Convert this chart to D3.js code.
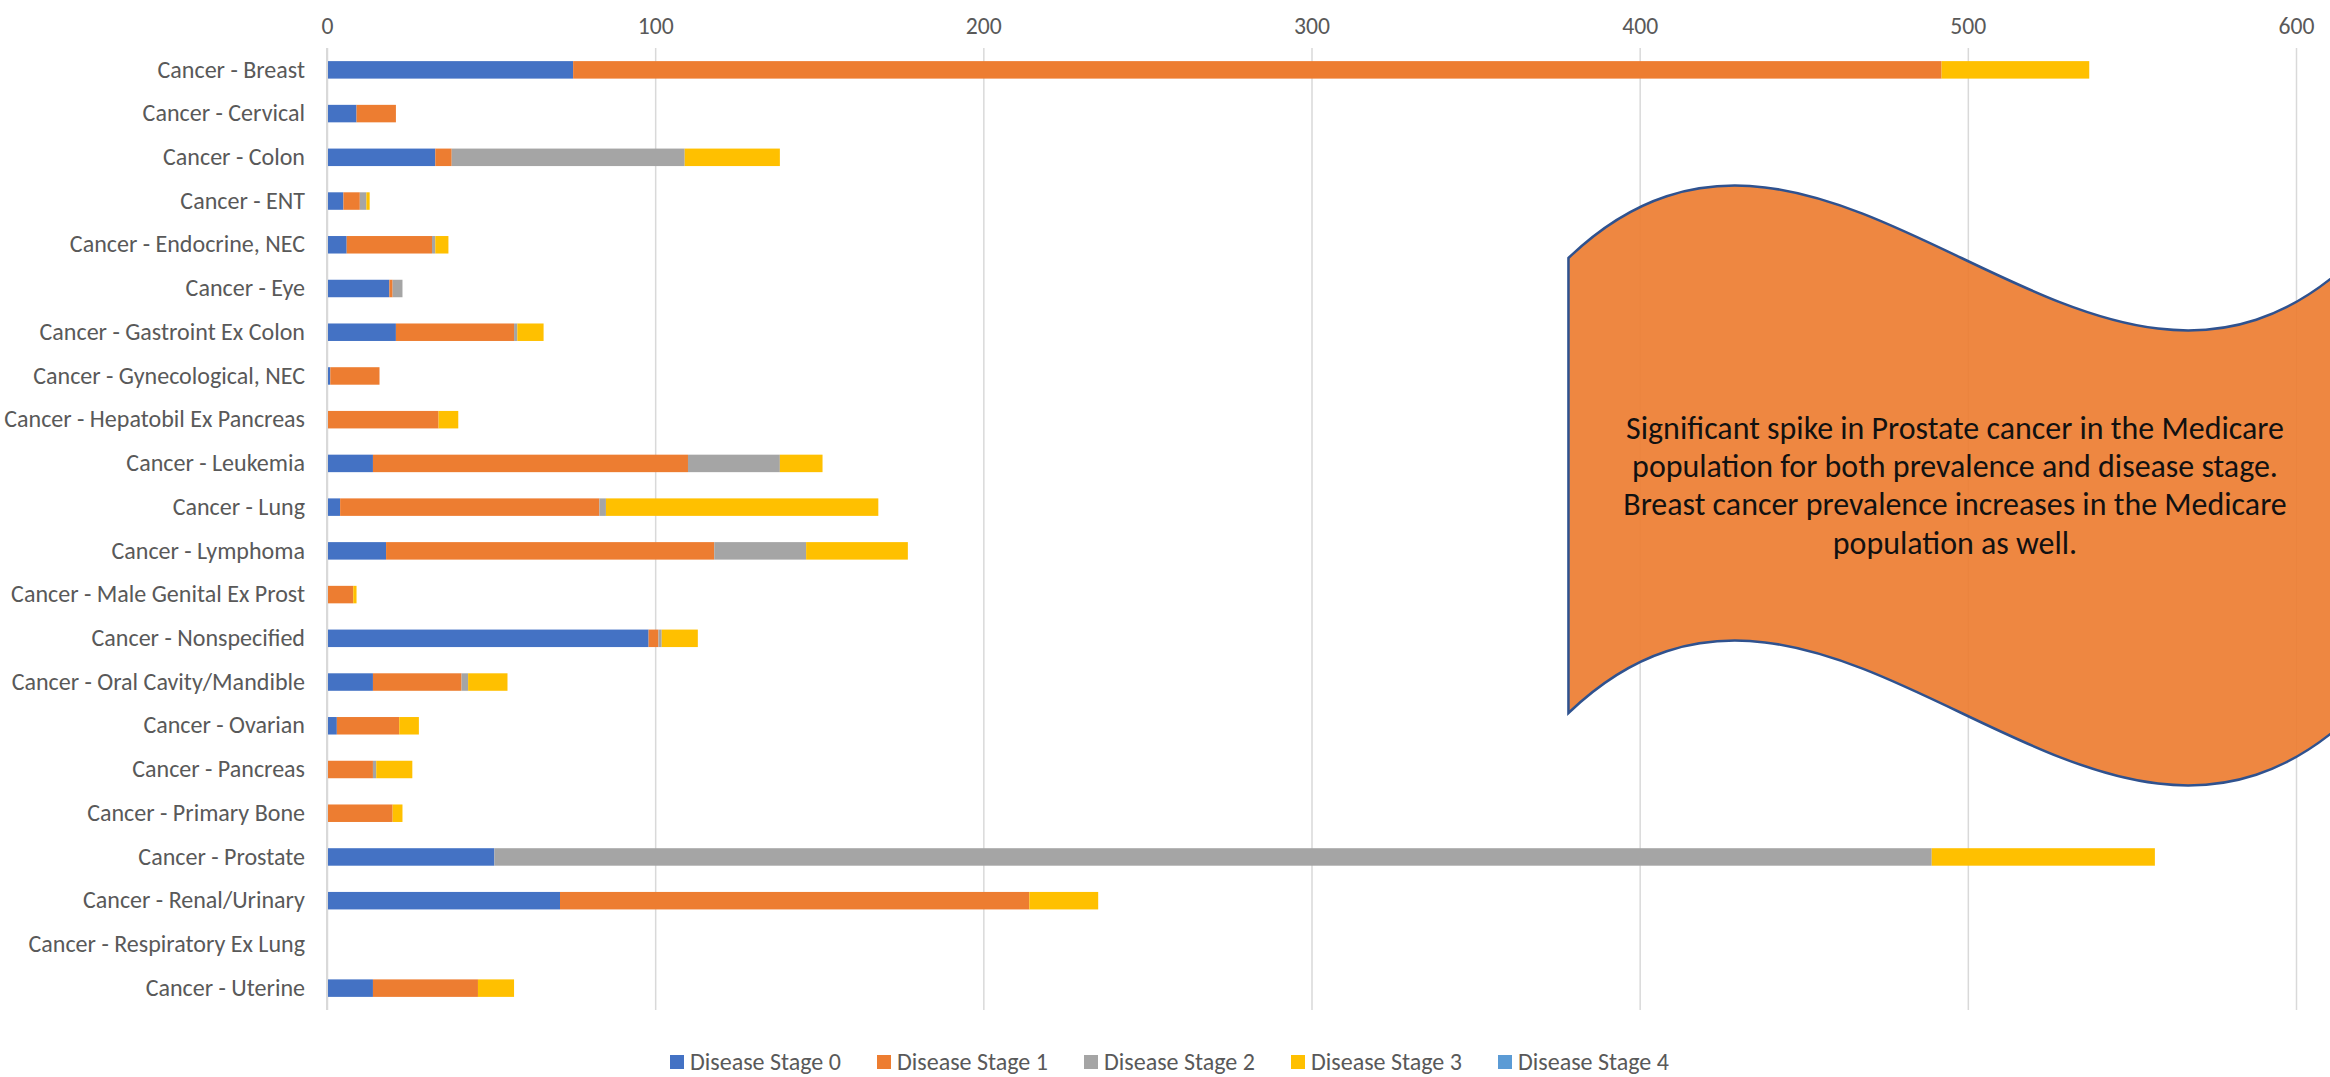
<!DOCTYPE html>
<html>
<head>
<meta charset="utf-8">
<title>Cancer - Disease Stage</title>
<style>
	body { margin: 0; background: #fff; }
	.calText { font-family: Calibri, Carlito, Lato, sans-serif; fill: #595959; }
	.tick line { stroke: #d9d9d9; stroke-width: 1.5px; }
	.domain { display: none; }
	.callout text { font-family: Calibri, Carlito, Lato, sans-serif; fill: #111; text-anchor: middle; }
</style>
</head>
<body>

<svg id="chart" width="2330" height="1077"></svg>

<script src="https://cdn.jsdelivr.net/npm/d3@7/dist/d3.min.js"></script>
<script>

var categories = ['Cancer - Breast', 'Cancer - Cervical', 'Cancer - Colon', 'Cancer - ENT',
	'Cancer - Endocrine, NEC', 'Cancer - Eye', 'Cancer - Gastroint Ex Colon', 'Cancer - Gynecological, NEC',
	'Cancer - Hepatobil Ex Pancreas', 'Cancer - Leukemia', 'Cancer - Lung', 'Cancer - Lymphoma',
	'Cancer - Male Genital Ex Prost', 'Cancer - Nonspecified', 'Cancer - Oral Cavity/Mandible', 'Cancer - Ovarian',
	'Cancer - Pancreas', 'Cancer - Primary Bone', 'Cancer - Prostate', 'Cancer - Renal/Urinary',
	'Cancer - Respiratory Ex Lung', 'Cancer - Uterine'];

var stages = ['Disease Stage 0', 'Disease Stage 1', 'Disease Stage 2', 'Disease Stage 3', 'Disease Stage 4'];

var stage0 = [75, 9, 33, 5, 6, 19, 21, 1, 0, 14, 4, 18, 0, 98, 14, 3, 0, 0, 51, 71, 0, 14];
var stage1 = [417, 12, 5, 5, 26, 1, 36, 15, 34, 96, 79, 100, 8, 3, 27, 19, 14, 20, 0, 143, 0, 32];
var stage2 = [0, 0, 71, 2, 1, 3, 1, 0, 0, 28, 2, 28, 0, 1, 2, 0, 1, 0, 438, 0, 0, 0];
var stage3 = [45, 0, 29, 1, 4, 0, 8, 0, 6, 13, 83, 31, 1, 11, 12, 6, 11, 3, 68, 21, 0, 11];
var stage4 = [0, 0, 0, 0, 0, 0, 0, 0, 0, 0, 0, 0, 0, 0, 0, 0, 0, 0, 0, 0, 0, 0];

var xTicks = [0, 100, 200, 300, 400, 500, 600];

var colors = ['#4472c4', '#ed7d31', '#a5a5a5', '#ffc000', '#5b9bd5'];

var calloutText = ['Significant spike in Prostate cancer in the Medicare',
	'population for both prevalence and disease stage.',
	'Breast cancer prevalence increases in the Medicare',
	'population as well.'];

// build rows for the stack
var seriesValues = [stage0, stage1, stage2, stage3, stage4];
var rows = categories.map(function(c, i) {
	var row = {category: c};
	stages.forEach(function(s, j) { row[s] = seriesValues[j][i]; });
	return row;
});

var svg = d3.select('#chart');

var plotLeft = 327,
	plotRight = 2296,
	plotTop = 48,
	plotBottom = 1010;

var x = d3.scaleLinear().domain([0, 600]).range([plotLeft, plotRight]);
var y = d3.scaleBand().domain(categories).range([plotTop, plotBottom]).paddingInner(0.6).paddingOuter(0.3);

// resize a text selection so that one of its nodes has the wanted width
function fitFont(sel, node, size, wanted) {
	sel.style('font-size', size + 'px');
	var len = node.getComputedTextLength();
	sel.style('font-size', (size * wanted / len) + 'px');
}

// gridlines + top labels
var xAxis = svg.append('g')
	.attr('transform', 'translate(0,' + plotTop + ')')
	.call(d3.axisTop(x).tickValues(xTicks).tickSize(-(plotBottom - plotTop)).tickPadding(14));

var tickText = xAxis.selectAll('text')
	.classed('calText', true)
	.attr('fill', null);
fitFont(tickText, tickText.nodes()[1], 21, 36);

// bars
var stacked = d3.stack().keys(stages)(rows);

svg.append('g')
	.selectAll('g')
	.data(stacked)
	.enter()
	.append('g')
	.attr('fill', function(d, i) { return colors[i]; })
	.selectAll('rect')
	.data(function(d) { return d; })
	.enter()
	.append('rect')
	.attr('x', function(d) { return x(d[0]); })
	.attr('y', function(d) { return y(d.data.category); })
	.attr('width', function(d) { return Math.max(0, x(d[1]) - x(d[0])); })
	.attr('height', y.bandwidth());

// category labels
var yAxis = svg.append('g')
	.attr('transform', 'translate(' + plotLeft + ',0)')
	.call(d3.axisLeft(y).tickSize(0).tickPadding(22));

var catText = yAxis.selectAll('text')
	.classed('calText', true)
	.attr('fill', null);
fitFont(catText, catText.nodes()[8], 20, 301);

// left axis line
svg.append('line')
	.attr('x1', plotLeft).attr('x2', plotLeft)
	.attr('y1', plotTop).attr('y2', plotBottom)
	.attr('stroke', '#d9d9d9')
	.attr('stroke-width', 2);

// wave callout
var waveLeft = x(378.3),
	waveWidth = 786,
	waveTop = 258,
	waveHeight = 455,
	waveBend = 251;

var wave = d3.path();
wave.moveTo(waveLeft, waveTop);
wave.bezierCurveTo(waveLeft + waveWidth / 3, waveTop - waveBend, waveLeft + 2 * waveWidth / 3, waveTop + waveBend, waveLeft + waveWidth, waveTop);
wave.lineTo(waveLeft + waveWidth, waveTop + waveHeight);
wave.bezierCurveTo(waveLeft + 2 * waveWidth / 3, waveTop + waveHeight + waveBend, waveLeft + waveWidth / 3, waveTop + waveHeight - waveBend, waveLeft, waveTop + waveHeight);
wave.closePath();

var callout = svg.append('g').classed('callout', true);

callout.append('path')
	.attr('d', wave.toString())
	.attr('fill', '#ed7d31')
	.attr('fill-opacity', 0.92)
	.attr('stroke', '#2f528f')
	.attr('stroke-width', 2.5);

var calloutLines = callout.selectAll('text')
	.data(calloutText)
	.enter()
	.append('text')
	.attr('x', 1955)
	.attr('y', function(d, i) { return 439 + i * 38.2; })
	.text(function(d) { return d; });

fitFont(calloutLines, calloutLines.node(), 28, 658);

// legend
var legend = svg.append('g')
	.selectAll('g')
	.data(stages)
	.enter()
	.append('g')
	.attr('transform', function(d, i) { return 'translate(' + (670 + i * 207) + ',1062)'; });

legend.append('rect')
	.attr('x', 0).attr('y', -7)
	.attr('width', 14).attr('height', 14)
	.attr('fill', function(d, i) { return colors[i]; });

var legendText = legend.append('text')
	.classed('calText', true)
	.attr('x', 20)
	.attr('dy', '0.35em')
	.text(function(d) { return d; });

fitFont(legendText, legendText.node(), 20, 151);

</script>

</body>
</html>
